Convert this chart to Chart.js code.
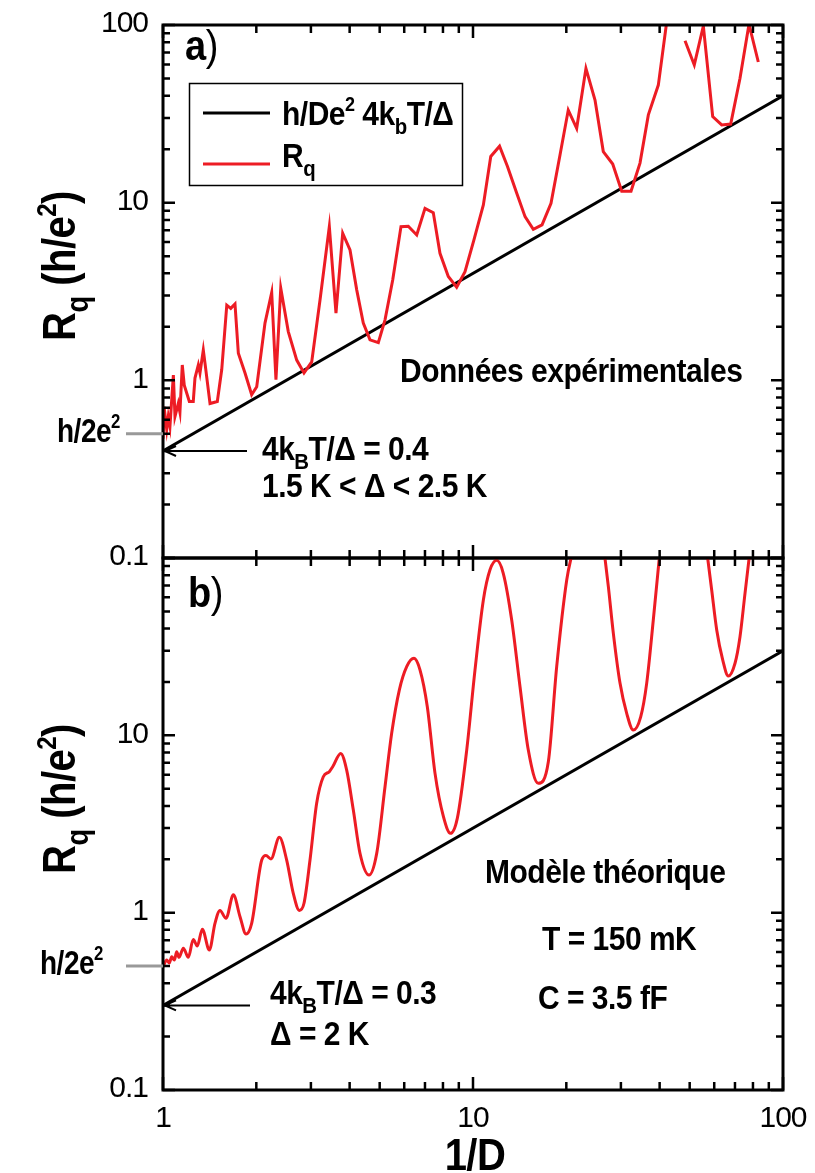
<!DOCTYPE html>
<html>
<head>
<meta charset="utf-8">
<script src="https://cdn.jsdelivr.net/npm/chart.js@4.4.0/dist/chart.umd.min.js"></script>
<style>
  body { margin: 0; background: #fff; }
  #wrap { position: relative; width: 815px; height: 1173px; }
  canvas { position: absolute; left: 0; }
  #chartA { top: 0; }
  #chartB { top: 540px; }
</style>
</head>
<body>
<div id="wrap">
  <canvas id="chartA" width="815" height="600"></canvas>
  <canvas id="chartB" width="815" height="633"></canvas>
</div>
<script>
// panel a) - experimental data (1/D, Rq in h/e^2), null = off scale
const xA = [1.000, 1.008, 1.028, 1.040, 1.053, 1.080, 1.093, 1.120, 1.134, 1.154, 1.171, 1.216, 1.252, 1.268, 1.300, 1.316, 1.349, 1.366, 1.418, 1.497,
  1.547, 1.606, 1.654, 1.707, 1.750, 1.839, 1.932, 2.006, 2.133, 2.242, 2.314, 2.398, 2.536, 2.700, 2.850, 3.018, 3.210, 3.440, 3.614, 3.799,
  4.011, 4.216, 4.427, 4.653, 4.950, 5.202, 5.508, 5.857, 6.183, 6.584, 7.002, 7.445, 7.825, 8.324, 8.858, 9.424, 10.07, 10.80, 11.41, 12.18,
  12.92, 13.84, 14.72, 15.65, 16.70, 17.85, 19.09, 20.29, 21.60, 23.14, 24.75, 26.32, 28.23, 30.18, 32.34, 34.57, 36.78, 39.61, 42.5, 45,
  48.30, 51.74, 55.34, 59.32, 63.43, 67.81, 72.66, 77.68, 83.24];
const rqA = [0.47, 0.71, 0.53, 0.625, 0.55, 1.07, 0.625, 0.74, 0.66, 1.22, 0.94, 0.76, 0.76, 1.03, 1.22, 1.10, 1.48, 1.25, 0.74, 0.76,
  1.15, 2.65, 2.54, 2.69, 1.42, 1.10, 0.83, 0.92, 2.10, 3.12, 1.01, 3.30, 1.88, 1.30, 1.10, 1.27, 2.83, 7.33, 2.39, 6.73,
  5.42, 3.23, 2.10, 1.69, 1.63, 2.19, 3.67, 7.33, 7.37, 6.58, 9.29, 8.79, 5.19, 3.84, 3.34, 4.09, 6.17, 9.71, 18.2, 20.8,
  16.0, 11.3, 8.34, 7.08, 7.50, 9.93, 18.6, 33.2, 26.2, 57.0, 37.8, 19.4, 16.5, 11.6, 11.6, 16.7, 31.2, 45.9, 116, null,
  81.6, 59.6, 98.7, 30.5, 27.4, 27.7, 50.1, 101, 61.9];

// panel b) - theoretical model
const xB = [1.000, 1.028, 1.048, 1.067, 1.088, 1.107, 1.126, 1.163, 1.207, 1.252, 1.290, 1.339, 1.411, 1.471, 1.527, 1.597, 1.686, 1.772, 1.853, 1.932,
  2.082, 2.149, 2.230, 2.373, 2.506, 2.633, 2.753, 2.850, 2.980, 3.131, 3.289, 3.440, 3.527, 3.743, 3.913, 4.111, 4.320, 4.619, 4.891, 5.202,
  5.467, 5.785, 6.111, 6.452, 6.745, 7.122, 7.542, 8.021, 8.461, 8.899, 9.544, 10.15, 10.80, 11.34, 11.93, 12.52, 13.33, 14.18, 15.08, 16.24,
  17.50, 18.62, 20.06, 20.97, 23.5, 26.47, 27.33, 28.36, 29.80, 31.32, 32.89, 34.75, 36.34, 38.16, 40.11, 48, 56.75, 58.88, 61.12, 63.90,
  66.61, 70.02, 72.66, 75.41, 78.26];
const rqB = [0.495, 0.54, 0.52, 0.564, 0.54, 0.602, 0.56, 0.63, 0.56, 0.706, 0.649, 0.806, 0.615, 0.871, 1.03, 0.929, 1.26, 0.949, 0.757, 0.871,
  1.98, 2.10, 2.01, 2.66, 1.98, 1.28, 1.03, 1.13, 1.98, 4.14, 5.84, 6.24, 6.65, 7.91, 6.37, 3.79, 2.16, 1.63, 2.16, 5.13,
  10.3, 18.0, 24.4, 27.2, 23.4, 14.5, 6.1, 3.5, 2.8, 3.4, 8.26, 23.4, 58.0, 85.5, 97, 82.0, 44.7, 18.8, 8.26, 5.36,
  7.1, 24.4, 75.2, 110, null, 110, 68.9, 37.6, 19.7, 13.3, 10.7, 12.7, 19.7, 44.7, 110, null, 110, 66.0, 39.3, 26.6,
  21.6, 25.5, 36.0, 63.2, 110];

// h/De^2 * 4kT/Delta straight lines
const fitX = [1, 100];
const fitA = [0.4, 40];
const fitB = [0.3, 30];

const xTicks = [1, 10, 100];
const xTickLabels = ['1', '10', '100'];
const yTicks = [0.1, 1, 10, 100];
const yTickLabelsA = ['0.1', '1', '10', '100'];
const yTickLabelsB = ['0.1', '1', '10', ''];
const hOver2e2 = 0.5;

const RED = '#ed1c24';
const FONT = '"Liberation Sans", Arial, sans-serif';

function pts(xs, ys) {
  return xs.map((v, i) => ({ x: v, y: ys[i] }));
}

// draws text made of parts: [text, kind] kind = '' | 'sub' | 'sup' | 'reg'
// the original figure's lettering is a little taller than wide, hence the stretch
function rich(ctx, x, y, parts, base, draw = true, stretch = 1.12) {
  let cx = 0;
  ctx.save();
  ctx.translate(x, y);
  ctx.scale(1, stretch);
  ctx.letterSpacing = '-0.5px';
  for (const [t, k] of parts) {
    let size = base, dy = 0, weight = 'bold';
    if (k === 'sub') { size = base * 0.68; dy = base * 0.28; }
    if (k === 'sup') { size = base * 0.6; dy = -base * 0.42; }
    if (k === 'reg') weight = 'normal';
    ctx.font = `${weight} ${size}px ${FONT}`;
    if (draw) ctx.fillText(t, cx, dy);
    cx += ctx.measureText(t).width;
  }
  ctx.restore();
  return cx;
}

function arrowLeft(ctx, x0, x1, y) {
  ctx.beginPath();
  ctx.moveTo(x0, y);
  ctx.lineTo(x1, y);
  ctx.moveTo(x1 + 11, y - 5);
  ctx.lineTo(x1, y);
  ctx.lineTo(x1 + 11, y + 5);
  ctx.stroke();
}

function drawFrame(chart, yLabels) {
  const { ctx, chartArea: a } = chart;
  const xs = chart.scales.x, ys = chart.scales.y;
  ctx.save();
  ctx.strokeStyle = '#000';
  ctx.lineWidth = 2.5;
  ctx.beginPath();
  for (const d of [1, 10]) {
    for (let k = 1; k <= 10; k++) {
      const px = xs.getPixelForValue(d * k);
      const len = (k === 1 || k === 10) ? 13 : 8;
      ctx.moveTo(px, a.top); ctx.lineTo(px, a.top + len);
      ctx.moveTo(px, a.bottom); ctx.lineTo(px, a.bottom - len);
    }
  }
  for (const d of [0.1, 1, 10]) {
    for (let k = 1; k <= 10; k++) {
      const py = ys.getPixelForValue(d * k);
      const len = (k === 1 || k === 10) ? 12 : 7;
      ctx.moveTo(a.left, py); ctx.lineTo(a.left + len, py);
      ctx.moveTo(a.right, py); ctx.lineTo(a.right - len, py);
    }
  }
  ctx.stroke();
  ctx.lineWidth = 3;
  ctx.strokeRect(a.left, a.top, a.right - a.left, a.bottom - a.top);

  // y tick labels
  ctx.fillStyle = '#000';
  ctx.font = `30px ${FONT}`;
  ctx.letterSpacing = '-1px';
  ctx.textAlign = 'right';
  ctx.textBaseline = 'middle';
  yTicks.forEach((v, i) => {
    if (yLabels[i]) ctx.fillText(yLabels[i], 148, ys.getPixelForValue(v) - 1);
  });
  ctx.restore();
}

function drawYTitle(ctx, cx, cy) {
  const parts = [['R', ''], ['q', 'sub'], [' (h/e', ''], ['2', 'sup'], [')', '']];
  ctx.save();
  ctx.translate(cx, cy);
  ctx.rotate(-Math.PI / 2);
  ctx.textBaseline = 'alphabetic';
  ctx.textAlign = 'left';
  const w = rich(ctx, 0, 0, parts, 40, false);
  rich(ctx, -w / 2, 0, parts, 40, true, 1.15);
  ctx.restore();
}

function drawHLevel(chart, ctx, labelX, labelY) {
  const ys = chart.scales.y;
  const py = ys.getPixelForValue(hOver2e2);
  ctx.save();
  ctx.strokeStyle = '#999';
  ctx.lineWidth = 3;
  ctx.beginPath();
  ctx.moveTo(126, py);
  ctx.lineTo(chart.chartArea.left, py);
  ctx.stroke();
  ctx.fillStyle = '#000';
  ctx.textBaseline = 'alphabetic';
  rich(ctx, labelX, labelY, [['h/2e', ''], ['2', 'sup']], 28, true, 1.2);
  ctx.restore();
}

const panelA = {
  id: 'panelA',
  afterDraw(chart) {
    const { ctx } = chart;
    drawFrame(chart, yTickLabelsA);
    ctx.save();
    ctx.fillStyle = '#000';
    ctx.textBaseline = 'alphabetic';
    rich(ctx, 185, 60, [['a', ''], [')', 'reg']], 38);

    // legend box
    ctx.strokeStyle = '#000';
    ctx.lineWidth = 1.5;
    ctx.strokeRect(189.5, 83.5, 273, 102);
    ctx.lineWidth = 3;
    ctx.beginPath(); ctx.moveTo(203, 113); ctx.lineTo(270, 113); ctx.stroke();
    ctx.strokeStyle = RED;
    ctx.beginPath(); ctx.moveTo(203, 164); ctx.lineTo(270, 164); ctx.stroke();
    rich(ctx, 282, 125, [['h/De', ''], ['2', 'sup'], [' 4k', ''], ['b', 'sub'], ['T/Δ', '']], 30);
    rich(ctx, 282, 167, [['R', ''], ['q', 'sub']], 30);

    rich(ctx, 400, 382, [['Données expérimentales', '']], 30);
    rich(ctx, 262, 460, [['4k', ''], ['B', 'sub'], ['T/Δ = 0.4', '']], 30);
    rich(ctx, 262, 497, [['1.5 K < Δ < 2.5 K', '']], 30);

    ctx.strokeStyle = '#000';
    ctx.lineWidth = 2;
    arrowLeft(ctx, 247, chart.chartArea.left + 2, chart.scales.y.getPixelForValue(fitA[0]));
    ctx.restore();

    drawHLevel(chart, ctx, 57, 442);
    drawYTitle(ctx, 75, 266);
  }
};

const panelB = {
  id: 'panelB',
  afterDraw(chart) {
    const { ctx } = chart;
    const xs = chart.scales.x;
    drawFrame(chart, yTickLabelsB);
    ctx.save();
    ctx.fillStyle = '#000';
    ctx.textBaseline = 'alphabetic';
    rich(ctx, 188, 67, [['b', ''], [')', 'reg']], 38);
    rich(ctx, 485, 343, [['Modèle théorique', '']], 30);
    rich(ctx, 542, 410, [['T = 150 mK', '']], 30);
    rich(ctx, 538, 469, [['C = 3.5 fF', '']], 30);
    rich(ctx, 270, 464, [['4k', ''], ['B', 'sub'], ['T/Δ = 0.3', '']], 30);
    rich(ctx, 270, 505, [['Δ = 2 K', '']], 30);

    ctx.strokeStyle = '#000';
    ctx.lineWidth = 2;
    arrowLeft(ctx, 250, chart.chartArea.left + 2, chart.scales.y.getPixelForValue(fitB[0]));

    // x tick labels
    ctx.font = `30px ${FONT}`;
    ctx.letterSpacing = '-1px';
    ctx.textAlign = 'center';
    ctx.textBaseline = 'middle';
    xTicks.forEach((v, i) => ctx.fillText(xTickLabels[i], xs.getPixelForValue(v), 579));
    ctx.textAlign = 'left';
    ctx.textBaseline = 'alphabetic';
    const w = rich(ctx, 0, 0, [['1/D', '']], 40, false);
    rich(ctx, 475 - w / 2, 630, [['1/D', '']], 40);
    ctx.restore();

    drawHLevel(chart, ctx, 40, 434);
    drawYTitle(ctx, 75, 259);
  }
};

function makeChart(id, fitY, xs, ys, padding, plugin) {
  return new Chart(document.getElementById(id), {
    type: 'line',
    data: {
      datasets: [
        {
          data: pts(xs, ys), borderColor: RED, borderWidth: 3, pointRadius: 0,
          spanGaps: false, order: 0,
          tension: id === 'chartB' ? 0.4 : 0,
          cubicInterpolationMode: id === 'chartB' ? 'monotone' : 'default'
        },
        { data: pts(fitX, fitY), borderColor: '#000', borderWidth: 3, pointRadius: 0, order: 1 }
      ]
    },
    options: {
      responsive: false,
      animation: false,
      devicePixelRatio: 1,
      layout: { padding },
      plugins: { legend: { display: false }, tooltip: { enabled: false } },
      scales: {
        x: { type: 'logarithmic', min: 1, max: 100, display: false },
        y: { type: 'logarithmic', min: 0.1, max: 100, display: false }
      }
    },
    plugins: [plugin]
  });
}

makeChart('chartA', fitA, xA, rqA, { left: 163, top: 25, right: 32, bottom: 42 }, panelA);
makeChart('chartB', fitB, xB, rqB, { left: 163, top: 18, right: 32, bottom: 83 }, panelB);
</script>
</body>
</html>
